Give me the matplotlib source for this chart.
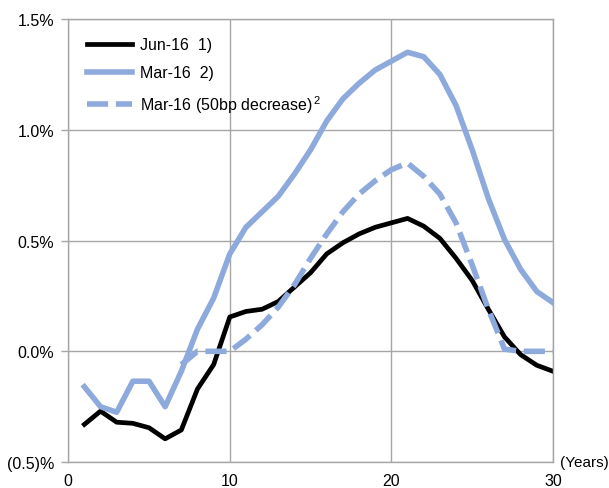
import matplotlib
matplotlib.use("Agg")
import matplotlib.pyplot as plt
from matplotlib.ticker import FuncFormatter

plt.rcParams['font.family'] = ['Liberation Sans', 'DejaVu Sans']
plt.rcParams['mathtext.fontset'] = 'custom'
plt.rcParams['mathtext.rm'] = 'Liberation Sans'
plt.rcParams['mathtext.it'] = 'Liberation Sans'

# data (%)
years = list(range(1, 31))
jun16 = [-0.33, -0.27, -0.32, -0.325, -0.345, -0.395, -0.355, -0.17, -0.06, 0.155,
         0.18, 0.19, 0.225, 0.29, 0.355, 0.44, 0.49, 0.53, 0.56, 0.58,
         0.60, 0.565, 0.51, 0.42, 0.32, 0.19, 0.065, -0.015, -0.063, -0.09]
mar16 = [-0.16, -0.25, -0.275, -0.135, -0.135, -0.25, -0.09, 0.10, 0.24, 0.44,
         0.56, 0.63, 0.70, 0.80, 0.91, 1.04, 1.14, 1.21, 1.27, 1.31,
         1.35, 1.33, 1.25, 1.11, 0.91, 0.69, 0.505, 0.37, 0.27, 0.22]
dec_years = list(range(7, 31))
mar16_dec = [-0.06, 0.0, 0.0, 0.0,
             0.055, 0.12, 0.20, 0.30, 0.42, 0.53, 0.63, 0.71, 0.77, 0.82,
             0.85, 0.79, 0.71, 0.58, 0.39, 0.19, 0.01, 0.0, 0.0, 0.0]

labels = ["Jun-16  1)", "Mar-16  2)", r"Mar-16 (50bp decrease)$^{\,2}$"]
blue = "#8eaadc"
grid_c = "#a6a6a6"
fs = 11.5

fig = plt.figure(figsize=(6.09, 4.89), dpi=100)
ax = fig.add_axes([0.112, 0.053, 0.796, 0.906])

ax.plot(years, jun16, color="black", lw=3.4, label=labels[0], solid_joinstyle="round")
ax.plot(years, mar16, color=blue, lw=4.0, label=labels[1], solid_joinstyle="round")
ax.plot(dec_years, mar16_dec, color=blue, lw=4.0, label=labels[2],
        dashes=(3.8, 1.4), dash_joinstyle="round")

ax.set_xlim(0, 30)
ax.set_ylim(-0.5, 1.5)
ax.set_xticks([0, 10, 20, 30])
ax.set_yticks([-0.5, 0.0, 0.5, 1.0, 1.5])


def pct(v, pos):
    if v < 0:
        return "({:.1f})%".format(-v)
    return "{:.1f}%".format(v)


ax.yaxis.set_major_formatter(FuncFormatter(pct))
ax.grid(True, color=grid_c, lw=1.0)
ax.set_axisbelow(True)
for s in ax.spines.values():
    s.set_color(grid_c)
    s.set_linewidth(1.0)
ax.tick_params(axis="x", length=0, pad=8, labelsize=fs, colors="black")
ax.tick_params(axis="y", length=5, width=1, color=grid_c, pad=5, labelsize=fs)

ax.text(1.015, 0.0, "(Years)", transform=ax.transAxes, ha="left", va="center",
        fontsize=fs - 0.5)

ax.legend(loc="upper left", frameon=False, fontsize=fs, handlelength=2.85,
          handletextpad=0.5, labelspacing=0.8, borderaxespad=0.75,
          bbox_to_anchor=(0.0, 1.0))

fig.savefig("out.png", dpi=100)
